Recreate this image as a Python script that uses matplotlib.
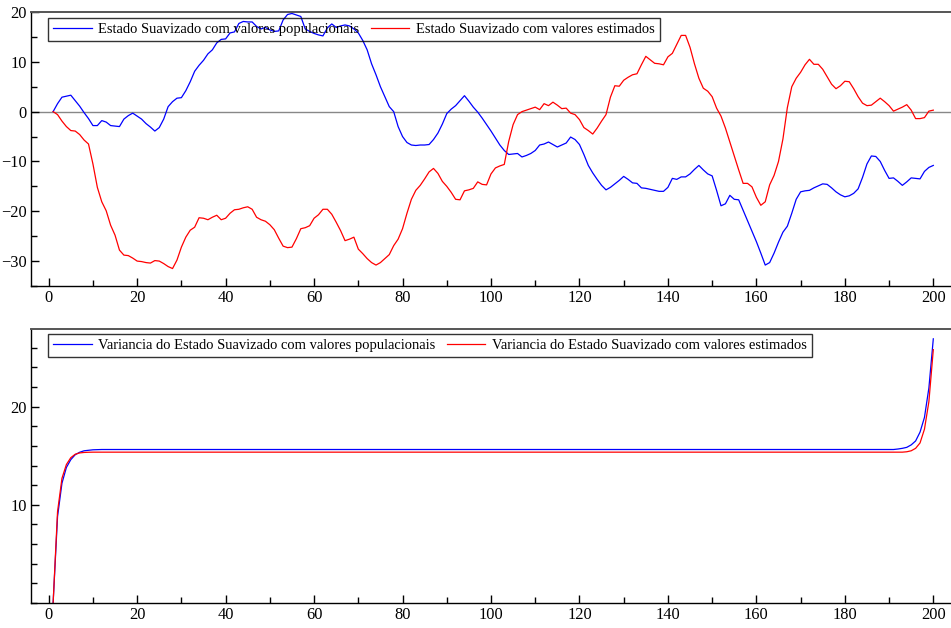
import numpy as np
import matplotlib
matplotlib.use("Agg")
import matplotlib.pyplot as plt
from matplotlib.ticker import MultipleLocator


# Smoothed state (t = 1..200)
T = list(range(1, 201))

ESTADO_POP = [
    0.0, 1.6, 2.9, 3.1, 3.3, 2.2, 1.1, -0.2, -1.4, -2.8,
    -2.8, -1.8, -2.1, -2.8, -2.9, -3.0, -1.5, -0.8, -0.3, -0.9,
    -1.5, -2.4, -3.1, -3.9, -3.2, -1.5, 1.0, 2.0, 2.7, 2.8,
    4.2, 6.0, 8.1, 9.3, 10.3, 11.6, 12.4, 13.8, 14.5, 14.6,
    15.8, 16.0, 17.7, 18.1, 18.0, 18.0, 17.1, 16.6, 16.9, 16.4,
    16.1, 16.2, 18.4, 19.5, 19.7, 19.4, 19.1, 16.6, 16.1, 15.7,
    15.4, 15.2, 16.8, 17.6, 16.9, 17.2, 17.4, 17.2, 16.6, 15.8,
    14.3, 12.4, 9.6, 7.4, 5.0, 3.0, 1.0, 0.0, -3.0, -5.0,
    -6.2, -6.7, -6.8, -6.7, -6.7, -6.6, -5.6, -4.3, -2.5, -0.4,
    0.5, 1.2, 2.2, 3.2, 2.1, 0.9, -0.1, -1.3, -2.6, -3.9,
    -5.3, -6.7, -7.8, -8.6, -8.5, -8.4, -9.1, -8.8, -8.4, -7.8,
    -6.7, -6.5, -6.1, -6.6, -7.1, -6.7, -6.3, -5.1, -5.6, -6.6,
    -8.6, -10.8, -12.3, -13.6, -14.8, -15.7, -15.2, -14.5, -13.8, -13.0,
    -13.6, -14.3, -14.4, -15.3, -15.4, -15.6, -15.8, -16.0, -16.0, -15.2,
    -13.4, -13.6, -13.1, -13.1, -12.5, -11.6, -10.8, -11.7, -12.5, -12.9,
    -15.8, -18.9, -18.5, -16.8, -17.6, -17.7, -19.8, -21.9, -24.0, -26.1,
    -28.4, -30.8, -30.3, -28.4, -26.2, -24.2, -23.0, -20.4, -17.6, -16.1,
    -15.9, -15.8, -15.3, -14.9, -14.5, -14.6, -15.3, -16.1, -16.7, -17.1,
    -16.9, -16.4, -15.5, -13.2, -10.5, -8.9, -9.0, -10.0, -11.8, -13.4,
    -13.3, -14.0, -14.8, -14.1, -13.3, -13.4, -13.5, -12.0, -11.2, -10.8,
]

ESTADO_EST = [
    0.0, -0.6, -1.9, -3.0, -3.8, -3.9, -4.6, -5.7, -6.5, -10.5,
    -15.2, -18.1, -19.9, -22.8, -24.8, -27.8, -28.8, -28.9, -29.4, -30.0,
    -30.1, -30.3, -30.4, -29.9, -30.0, -30.5, -31.1, -31.5, -29.8, -27.2,
    -25.2, -23.8, -23.2, -21.3, -21.4, -21.7, -21.2, -20.8, -21.7, -21.4,
    -20.4, -19.7, -19.6, -19.3, -19.1, -19.6, -21.2, -21.7, -22.0, -22.7,
    -23.7, -25.4, -27.0, -27.3, -27.2, -25.5, -23.5, -23.3, -22.9, -21.4,
    -20.7, -19.6, -19.6, -20.6, -22.2, -23.9, -25.9, -25.6, -25.2, -27.6,
    -28.5, -29.5, -30.3, -30.8, -30.3, -29.5, -28.7, -26.9, -25.6, -23.5,
    -20.4, -17.6, -15.8, -14.8, -13.5, -12.1, -11.4, -12.4, -14.0, -15.0,
    -16.2, -17.6, -17.7, -15.9, -15.7, -15.4, -14.1, -14.6, -14.7, -12.5,
    -11.3, -10.9, -10.6, -6.0, -2.6, -0.6, 0.0, 0.3, 0.6, 0.9,
    0.4, 1.6, 1.2, 1.9, 1.3, 0.6, 0.7, -0.3, -0.6, -1.6,
    -3.2, -3.8, -4.5, -3.3, -1.9, -0.6, 2.9, 5.2, 5.1, 6.3,
    6.9, 7.4, 7.6, 9.4, 11.1, 10.4, 9.7, 9.6, 9.4, 11.0,
    11.7, 13.5, 15.3, 15.3, 12.9, 9.6, 6.7, 4.7, 4.1, 3.0,
    0.7, -0.9, -3.3, -6.1, -8.9, -11.7, -14.4, -14.4, -15.1, -17.2,
    -18.8, -18.1, -14.7, -12.8, -10.0, -5.5, 0.8, 5.0, 6.7, 7.9,
    9.4, 10.5, 9.5, 9.5, 8.5, 7.0, 5.5, 4.6, 5.2, 6.1,
    6.0, 4.6, 3.0, 1.7, 1.2, 1.3, 2.0, 2.7, 2.0, 1.2,
    0.1, 0.5, 0.9, 1.4, 0.3, -1.4, -1.4, -1.2, 0.1, 0.3,
]

# Variance of the smoothed state (flat between the listed points)
VAR_POP_T = [1, 2, 3, 4, 5, 6, 7, 8, 9, 10, 12, 191, 192, 193, 194, 195, 196, 197, 198, 199, 200]
VAR_POP = [0.0, 8.8, 12.2, 13.8, 14.6, 15.1, 15.35, 15.5, 15.55, 15.6, 15.63,
           15.63, 15.68, 15.75, 15.85, 16.1, 16.5, 17.4, 18.9, 21.9, 26.9]
VAR_EST_T = [1, 2, 3, 4, 5, 6, 7, 8, 9, 10, 12, 193, 194, 195, 196, 197, 198, 199, 200]
VAR_EST = [0.0, 9.3, 12.7, 14.1, 14.8, 15.15, 15.28, 15.33, 15.35, 15.36, 15.36,
           15.36, 15.4, 15.5, 15.75, 16.3, 17.7, 20.5, 25.8]

LABELS_TOP = ["Estado Suavizado com valores populacionais",
              "Estado Suavizado com valores estimados"]
LABELS_BOTTOM = ["Variancia do Estado Suavizado com valores populacionais",
                 "Variancia do Estado Suavizado com valores estimados"]

plt.rcParams["font.family"] = ["Liberation Serif", "DejaVu Serif"]


def style_axes(ax, ymajor, yminor):
    ax.set_xlim(-4, 204)
    ax.xaxis.set_major_locator(MultipleLocator(20))
    ax.xaxis.set_minor_locator(MultipleLocator(10))
    ax.yaxis.set_major_locator(MultipleLocator(ymajor))
    ax.yaxis.set_minor_locator(MultipleLocator(yminor))
    ax.tick_params(which="both", direction="in", top=False, right=False,
                   labelsize=11.8, pad=3, width=1.0, color="black")
    ax.tick_params(which="major", length=6)
    ax.tick_params(which="minor", length=4)
    ax.spines["right"].set_visible(False)
    ax.spines["top"].set_color("#555555")
    ax.spines["top"].set_linewidth(1.4)
    ax.spines["left"].set_linewidth(1.0)
    ax.spines["bottom"].set_linewidth(1.0)


def add_legend(ax, top_px):
    # transparent box: the curves stay visible behind it, as in the original
    leg = ax.legend(loc="upper left", bbox_to_anchor=(0.0185, 1 - top_px / 274.0),
                    ncol=2, fontsize=10.45, frameon=True, fancybox=False,
                    borderaxespad=0, handlelength=2.65, handletextpad=0.45,
                    columnspacing=0.8, borderpad=0.35)
    leg.get_frame().set_edgecolor("black")
    leg.get_frame().set_facecolor("none")
    leg.get_frame().set_linewidth(1.0)
    return leg


fig = plt.figure(figsize=(9.51, 6.28), dpi=100)
ax1 = fig.add_axes([0.0326, 0.5446, 0.9674, 0.4363])
ax2 = fig.add_axes([0.0326, 0.0398, 0.9674, 0.4363])

# top: smoothed state
ax1.axhline(0, color="#888888", linewidth=1.0, zorder=1)
ax1.plot(T, ESTADO_POP, color="blue", linewidth=0.9, label=LABELS_TOP[0])
ax1.plot(T, ESTADO_EST, color="red", linewidth=0.9, label=LABELS_TOP[1])
ax1.set_ylim(-35, 20)
style_axes(ax1, 10, 5)
add_legend(ax1, 5.7)

# bottom: variance
ax2.plot(VAR_POP_T, VAR_POP, color="blue", linewidth=0.9, label=LABELS_BOTTOM[0])
ax2.plot(VAR_EST_T, VAR_EST, color="red", linewidth=0.9, label=LABELS_BOTTOM[1])
ax2.set_ylim(0, 27.9)
style_axes(ax2, 10, 2)
ax2.set_yticks([10, 20])
add_legend(ax2, 5.0)

fig.savefig("out.png", dpi=100)
